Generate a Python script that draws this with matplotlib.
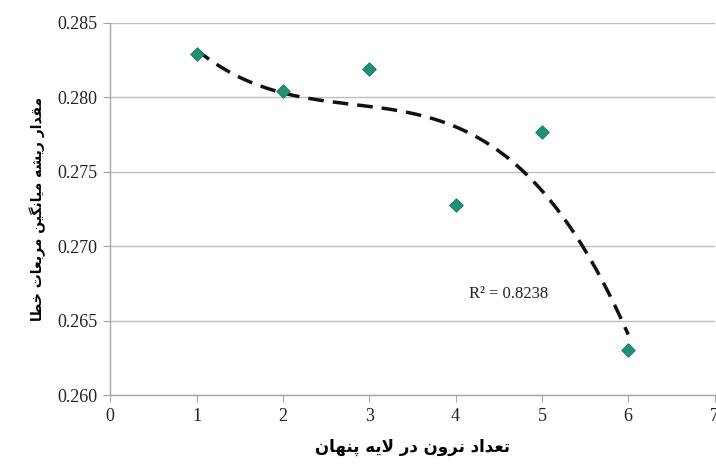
import matplotlib
matplotlib.use("Agg")
from matplotlib import pyplot as plt
import numpy as np

# data
neurons = [1, 2, 3, 4, 5, 6]
rmse = [0.2829, 0.2804, 0.2819, 0.2728, 0.2777, 0.2630]
x_ticks = [0, 1, 2, 3, 4, 5, 6, 7]
y_ticks = [0.260, 0.265, 0.270, 0.275, 0.280, 0.285]
r2_label = "R² = 0.8238"
x_title = "تعداد نرون در لایه پنهان"
y_title = "مقدار ریشه میانگین مربعات خطا"

# simple persian shaping (matplotlib does no arabic joining by itself)
forms = {
    'ا': ('\uFE8D', '\uFE8E', None, None),
    'ب': ('\uFE8F', '\uFE90', '\uFE91', '\uFE92'),
    'پ': ('\uFB56', '\uFB57', '\uFB58', '\uFB59'),
    'ت': ('\uFE95', '\uFE96', '\uFE97', '\uFE98'),
    'خ': ('\uFEA5', '\uFEA6', '\uFEA7', '\uFEA8'),
    'د': ('\uFEA9', '\uFEAA', None, None),
    'ر': ('\uFEAD', '\uFEAE', None, None),
    'ش': ('\uFEB5', '\uFEB6', '\uFEB7', '\uFEB8'),
    'ط': ('\uFEC1', '\uFEC2', '\uFEC3', '\uFEC4'),
    'ع': ('\uFEC9', '\uFECA', '\uFECB', '\uFECC'),
    'ق': ('\uFED5', '\uFED6', '\uFED7', '\uFED8'),
    'گ': ('\uFB92', '\uFB93', '\uFB94', '\uFB95'),
    'ل': ('\uFEDD', '\uFEDE', '\uFEDF', '\uFEE0'),
    'م': ('\uFEE1', '\uFEE2', '\uFEE3', '\uFEE4'),
    'ن': ('\uFEE5', '\uFEE6', '\uFEE7', '\uFEE8'),
    'ه': ('\uFEE9', '\uFEEA', '\uFEEB', '\uFEEC'),
    'و': ('\uFEED', '\uFEEE', None, None),
    'ی': ('\uFBFC', '\uFBFD', '\uFBFE', '\uFBFF'),
    'ﻻ': ('\uFEFB', '\uFEFC', None, None),
}


def shape(text):
    text = text.replace('لا', 'ﻻ')
    out = []
    for i, ch in enumerate(text):
        if ch not in forms:
            out.append(ch)
            continue
        prev = text[i - 1] if i > 0 else ' '
        nxt = text[i + 1] if i + 1 < len(text) else ' '
        join_prev = prev in forms and forms[prev][2] is not None
        join_next = nxt in forms and forms[ch][2] is not None
        iso, fin, ini, med = forms[ch]
        if join_prev and join_next:
            out.append(med)
        elif join_prev:
            out.append(fin)
        elif join_next:
            out.append(ini)
        else:
            out.append(iso)
    return ''.join(out)[::-1]


fig = plt.figure(figsize=(7.16, 4.67), dpi=100)
ax = fig.add_axes([0.154, 0.154, 0.844, 0.797])

# third order trendline through the points
coef = np.polyfit(neurons, rmse, 3)
xs = np.linspace(min(neurons), max(neurons), 200)
ax.plot(xs, np.polyval(coef, xs), color='#111111', linestyle=(0, (4.5, 2.6)),
        linewidth=2.5, zorder=2)

ax.scatter(neurons, rmse, marker='D', s=48, color='#1f9178', edgecolors='#17775f',
           linewidths=0.6, zorder=3)

ax.text(4.16, 0.2665, r2_label, fontsize=12, family='Liberation Serif', color='#222222')

ax.set_xlim(0, 7)
ax.set_ylim(0.260, 0.285)
ax.set_xticks(x_ticks)
ax.set_yticks(y_ticks)
ax.set_yticklabels([f'{v:.3f}' for v in y_ticks])
ax.grid(axis='y', color='#bfbfbf', linewidth=1)
ax.set_axisbelow(True)

for s in ['top', 'right']:
    ax.spines[s].set_visible(False)
for s in ['left', 'bottom']:
    ax.spines[s].set_color('#a6a6a6')
    ax.spines[s].set_linewidth(1)

ax.tick_params(axis='both', color='#a6a6a6', length=5, labelsize=13, pad=4,
               labelcolor='#222222')
for lbl in ax.get_xticklabels() + ax.get_yticklabels():
    lbl.set_family('Liberation Serif')

ax.set_xlabel(shape(x_title), fontsize=12, fontweight='bold', family='DejaVu Sans', labelpad=10)
ax.set_ylabel(shape(y_title), fontsize=10, fontweight='bold', family='DejaVu Sans', labelpad=8)

fig.savefig('out.png', dpi=100)
